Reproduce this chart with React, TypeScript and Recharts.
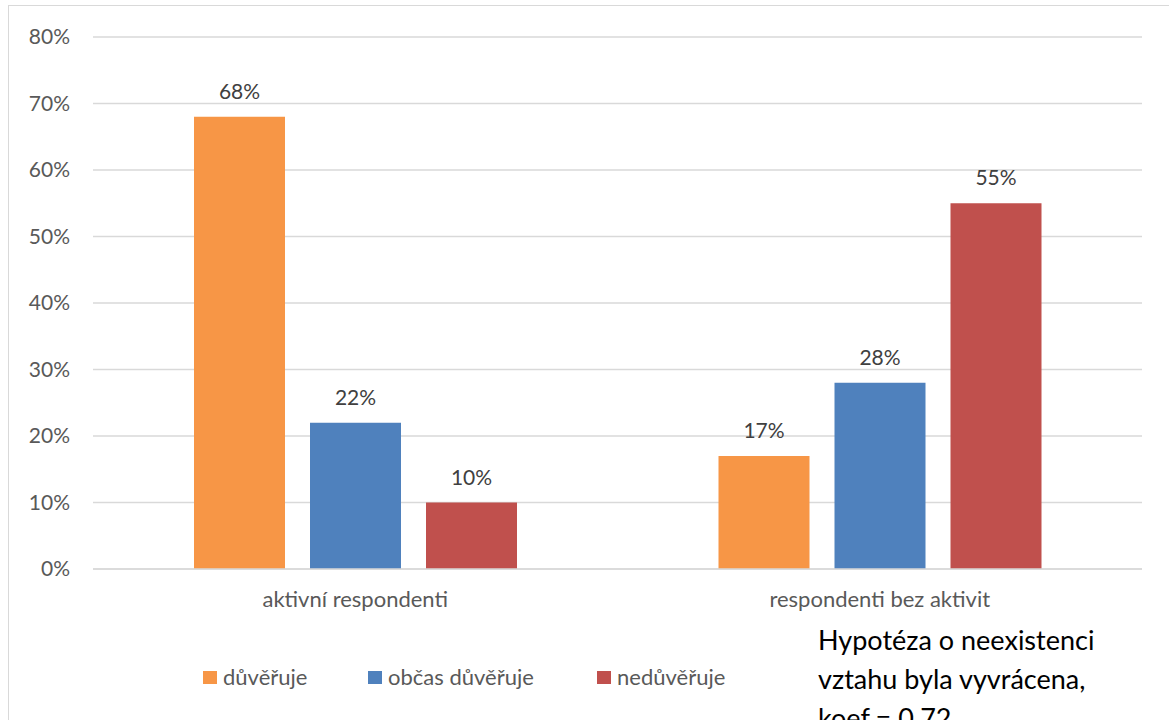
import React from 'react';
import { BarChart, Bar, XAxis, YAxis, CartesianGrid, LabelList } from 'recharts';

// skupiny respondentů
const categories = ['aktivní respondenti', 'respondenti bez aktivit'];

// hodnoty v %
const duveruje = [68, 17];
const obcasDuveruje = [22, 28];
const neduveruje = [10, 55];

const yTicks = [0, 10, 20, 30, 40, 50, 60, 70, 80];

const seriesNames = ['důvěřuje', 'občas důvěřuje', 'nedůvěřuje'];
const seriesKeys = ['duveruje', 'obcas', 'neduveruje'];
const seriesColors = ['#F79646', '#4F81BD', '#C0504D'];

const noteLines = ['Hypotéza o neexistenci', 'vztahu byla vyvrácena,', 'koef.= 0.72'];

const FONT = 'Lato, "Noto Sans", sans-serif';
const legendLeft = [203, 368, 597];

const App: React.FC = () => {
  const data = categories.map((name, i) => ({
    name,
    duveruje: duveruje[i],
    obcas: obcasDuveruje[i],
    neduveruje: neduveruje[i]
  }));

  return (
    <div
      style={{
        position: 'absolute',
        left: 0,
        top: 0,
        width: 1169,
        height: 720,
        overflow: 'hidden',
        background: '#fff',
        fontFamily: FONT
      }}
    >
      {/* rámeček grafu */}
      <div
        style={{
          position: 'absolute',
          left: 8,
          top: 5,
          width: 1300,
          height: 900,
          border: '1.5px solid #d9d9d9'
        }}
      />

      <div style={{ position: 'absolute', left: 0, top: 0 }}>
        <BarChart
          width={1169}
          height={720}
          data={data}
          margin={{ top: 37, right: 27, left: 0, bottom: 0 }}
          barSize={91}
          barGap={25}
        >
          <CartesianGrid horizontal vertical={false} stroke="#d9d9d9" strokeWidth={1.5} />
          <XAxis
            dataKey="name"
            height={151}
            axisLine={{ stroke: '#d9d9d9', strokeWidth: 1.5 }}
            tickLine={false}
            tickSize={0}
            tickMargin={22}
            tick={{ fontSize: 22, fill: '#595959', fontFamily: FONT }}
          />
          <YAxis
            width={93}
            domain={[0, 80]}
            ticks={yTicks}
            axisLine={false}
            tickLine={false}
            tickSize={0}
            tickMargin={23}
            tickFormatter={(v: number) => `${v}%`}
            tick={{ fontSize: 21, fill: '#595959', fontFamily: FONT }}
          />
          {seriesKeys.map((key, i) => (
            <Bar key={key} dataKey={key} name={seriesNames[i]} fill={seriesColors[i]} isAnimationActive={false}>
              <LabelList
                dataKey={key}
                position="top"
                offset={18}
                formatter={(v: any) => `${v}%`}
                style={{ fontSize: 21, fill: '#404040', fontFamily: FONT }}
              />
            </Bar>
          ))}
        </BarChart>
      </div>

      {/* legenda */}
      {seriesNames.map((name, i) => (
        <div
          key={name}
          style={{
            position: 'absolute',
            left: legendLeft[i],
            top: 665,
            display: 'flex',
            alignItems: 'center',
            fontSize: 22,
            color: '#595959',
            lineHeight: '24px',
            whiteSpace: 'nowrap'
          }}
        >
          <span
            style={{
              display: 'inline-block',
              width: 14,
              height: 13,
              background: seriesColors[i],
              marginRight: 6
            }}
          />
          <span>{name}</span>
        </div>
      ))}

      {/* poznámka */}
      <div
        style={{
          position: 'absolute',
          left: 818,
          top: 620,
          fontSize: 27,
          lineHeight: '39px',
          color: '#000'
        }}
      >
        {noteLines.map((line) => (
          <div key={line}>{line}</div>
        ))}
      </div>
    </div>
  );
};

export default App;
